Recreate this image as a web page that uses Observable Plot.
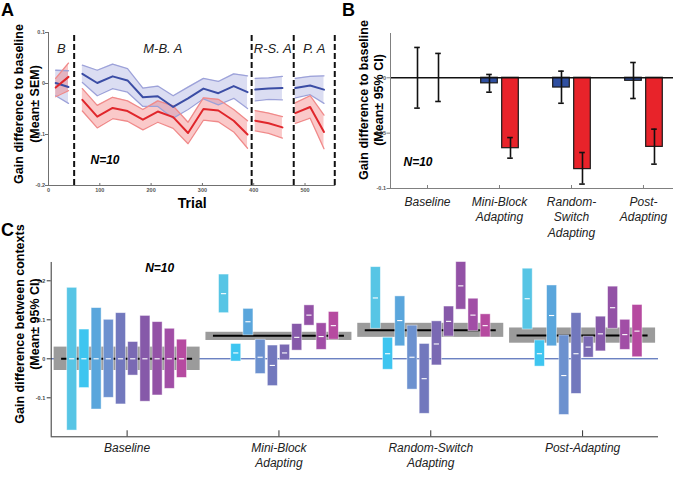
<!DOCTYPE html>
<html><head><meta charset="utf-8">
<script src="https://cdn.jsdelivr.net/npm/d3@7"></script>
<script src="https://cdn.jsdelivr.net/npm/@observablehq/plot@0.6"></script>
<style>
html,body{margin:0;padding:0;background:#fff;}
#wrap{position:relative;width:682px;height:480px;overflow:hidden;font-family:"Liberation Sans",Arial,Helvetica,sans-serif;}
#wrap > svg{position:absolute;}
.letter{position:absolute;font-weight:bold;font-size:18px;line-height:1;color:#000;}
</style></head><body><div id="wrap"></div>
<script>
const FONT = '"Liberation Sans", Arial, Helvetica, sans-serif';

// ---------------- Panel A data ----------------
const regionNamesA = ["B", "M-B. A", "R-S. A", "P. A"];
const regionEdgesA = [0, 50, 396, 478, 558];
const trialsA = [14, 39, 66, 95, 125, 154, 184, 213, 243, 272, 302, 331, 361, 388, 403, 429, 456, 481, 510, 537];
const blueMeanA = [0.001, -0.007, 0.019, 0.001, 0.014, 0.006, -0.027, -0.025, -0.046, -0.029, -0.010, -0.019, -0.005, -0.017, -0.012, -0.010, -0.009, -0.009, -0.004, -0.012];
const blueSemA = [0.025, 0.032, 0.017, 0.025, 0.024, 0.023, 0.018, 0.020, 0.022, 0.022, 0.020, 0.023, 0.024, 0.032, 0.022, 0.021, 0.023, 0.019, 0.018, 0.027];
const redMeanA = [-0.008, 0.013, -0.032, -0.065, -0.048, -0.054, -0.071, -0.055, -0.066, -0.097, -0.050, -0.053, -0.073, -0.100, -0.073, -0.078, -0.086, -0.058, -0.046, -0.095];
const redSemA = [0.018, 0.027, 0.022, 0.022, 0.021, 0.020, 0.020, 0.021, 0.022, 0.021, 0.022, 0.022, 0.022, 0.027, 0.020, 0.020, 0.021, 0.020, 0.022, 0.033];
const xTicksA = [0, 100, 200, 300, 400, 500];
const yTicksA = [0.1, 0, -0.1, -0.2];

// ---------------- Panel B data ----------------
const phasesB = ["Baseline", "Mini-Block\nAdapting", "Random-\nSwitch\nAdapting", "Post-\nAdapting"];
const blueB   = [0, -0.005, -0.0088, -0.0027];
const blueLoB = [-0.0274, -0.013, -0.023, -0.0187];
const blueHiB = [0.0274, 0.003, 0.006, 0.0138];
const redB    = [0, -0.0636, -0.0825, -0.0624];
const redLoB  = [-0.0214, -0.0726, -0.096, -0.078];
const redHiB  = [0.022, -0.054, -0.0675, -0.0464];
const yTicksB = [0, -0.05, -0.1];

// ---------------- Panel C data ----------------
const phasesC = ["Baseline", "Mini-Block\nAdapting", "Random-Switch\nAdapting", "Post-Adapting"];
const groupMeanC = [0, 0.059, 0.073, 0.060];
const groupLoC   = [-0.030, 0.047, 0.055, 0.040];
const groupHiC   = [0.030, 0.068, 0.091, 0.079];
const subjMeanBaseline = [0, 0, 0, 0, 0, 0, 0, 0, 0, 0];
const subjLoBaseline   = [-0.184, -0.075, -0.130, -0.100, -0.117, -0.043, -0.110, -0.094, -0.077, -0.049];
const subjHiBaseline   = [0.182, 0.075, 0.130, 0.100, 0.117, 0.043, 0.110, 0.094, 0.077, 0.049];
const subjMeanMini = [0.167, 0.015, 0.095, 0.004, -0.017, 0.015, 0.055, 0.112, 0.057, 0.085];
const subjLoMini   = [0.117, -0.007, 0.060, -0.039, -0.070, -0.004, 0.021, 0.085, 0.023, 0.049];
const subjHiMini   = [0.216, 0.038, 0.128, 0.049, 0.034, 0.036, 0.089, 0.137, 0.091, 0.120];
const subjMeanRandom = [0.156, 0.013, 0.098, 0.004, -0.051, 0.038, 0.096, 0.187, 0.112, 0.085];
const subjLoRandom   = [0.077, -0.028, 0.032, -0.079, -0.141, -0.017, 0.057, 0.126, 0.071, 0.055];
const subjHiRandom   = [0.235, 0.054, 0.160, 0.085, 0.038, 0.096, 0.134, 0.248, 0.154, 0.114];
const subjMeanPost = [0.154, 0.013, 0.111, -0.043, 0.013, 0.030, 0.064, 0.131, 0.062, 0.071];
const subjLoPost   = [0.075, -0.020, 0.032, -0.144, -0.090, 0.003, 0.019, 0.077, 0.023, 0.004];
const subjHiPost   = [0.231, 0.047, 0.188, 0.060, 0.117, 0.057, 0.108, 0.185, 0.100, 0.138];
const subjectColors = ["#57c5e5", "#3ec5f0", "#5aa6dc", "#6c91cf", "#7278bd", "#7a69b3", "#8659a9", "#9352a6", "#a14ea6", "#b64aa0"];
const yTicksC = [0.2, 0.1, 0, -0.1];

// ---------------- helpers ----------------
const wrap = document.getElementById("wrap");
const fmt = d => String(d);
function place(svg, left, top) { svg.style.left = left + "px"; svg.style.top = top + "px"; wrap.appendChild(svg); }
function letter(t, left, top) { const d = document.createElement("div"); d.className = "letter"; d.textContent = t; d.style.left = left + "px"; d.style.top = top + "px"; wrap.appendChild(d); }
const baseStyle = {fontFamily: FONT, background: "transparent", overflow: "visible", fontSize: "6px", color: "#000"};

// ---------------- Panel A ----------------
{
  const W = 345, H = 220, mL = 48, mR = 9.7, mT = 32, mB = 35;
  const xD = [0, 560], yD = [-0.2, 0.1];
  const kx = (xD[1] - xD[0]) / (W - mL - mR), ky = (yD[1] - yD[0]) / (H - mT - mB);
  const regionOf = t => d3.bisectRight(regionEdgesA, t) - 1;
  const rows = trialsA.map((t, i) => ({t, region: regionOf(t), bm: blueMeanA[i], bs: blueSemA[i], rm: redMeanA[i], rs: redSemA[i]}));
  const regions = regionNamesA.map((name, i) => ({name, mid: (regionEdgesA[i] + regionEdgesA[i + 1]) / 2}));
  const axisC = "#707070";
  const svg = Plot.plot({
    width: W, height: H, marginLeft: mL, marginRight: mR, marginTop: mT, marginBottom: mB,
    x: {domain: xD, axis: null}, y: {domain: yD, axis: null},
    style: baseStyle,
    marks: [
      Plot.areaY(rows, {x: "t", y1: d => d.bm - d.bs, y2: d => d.bm + d.bs, z: "region", fill: "#8f96d8", fillOpacity: 0.32}),
      Plot.areaY(rows, {x: "t", y1: d => d.rm - d.rs, y2: d => d.rm + d.rs, z: "region", fill: "#f26a6a", fillOpacity: 0.36}),
      Plot.line(rows, {x: "t", y: d => d.bm + d.bs, z: "region", stroke: "#9da2d9", strokeWidth: 1.3}),
      Plot.line(rows, {x: "t", y: d => d.bm - d.bs, z: "region", stroke: "#9da2d9", strokeWidth: 1.3}),
      Plot.line(rows, {x: "t", y: d => d.rm + d.rs, z: "region", stroke: "#f08a8a", strokeWidth: 1.3}),
      Plot.line(rows, {x: "t", y: d => d.rm - d.rs, z: "region", stroke: "#f08a8a", strokeWidth: 1.3}),
      Plot.line(rows, {x: "t", y: "bm", z: "region", stroke: "#3b4da5", strokeWidth: 2}),
      Plot.line(rows, {x: "t", y: "rm", z: "region", stroke: "#e0262b", strokeWidth: 2}),
      Plot.ruleX(regionEdgesA.slice(1), {x: d => d, y1: () => yD[0], y2: () => yD[1], stroke: "#111", strokeWidth: 2, strokeDasharray: "6,3"}),
      // axes
      Plot.ruleX([xD[0]], {x: d => d, y1: () => yD[0], y2: () => yD[1], stroke: axisC, strokeWidth: 1}),
      Plot.ruleY([yD[0]], {y: d => d, x1: () => xD[0], x2: () => xD[1], stroke: axisC, strokeWidth: 1}),
      Plot.ruleY(yTicksA, {y: d => d, x1: () => xD[0] - 3 * kx, x2: () => xD[0], stroke: axisC}),
      Plot.ruleX(xTicksA, {x: d => d, y1: () => yD[0], y2: () => yD[0] + 2 * ky, stroke: axisC}),
      Plot.text(yTicksA, {x: () => xD[0], y: d => d, text: fmt, textAnchor: "end", dx: -3.5, fontSize: 5.5, fontWeight: "bold", fill: "#555"}),
      Plot.text(xTicksA, {x: d => d, y: () => yD[0], text: fmt, dy: 4.5, fontSize: 5.5, fontWeight: "bold", fill: "#555"}),
      // annotations
      Plot.text(regions, {x: "mid", text: "name", frameAnchor: "top", dy: 11, fontSize: 13, fontStyle: "italic", fill: "#222"}),
      Plot.text(["N=10"], {text: d => d, frameAnchor: "bottom-left", dx: 42, dy: -22, textAnchor: "start", fontSize: 12, fontWeight: "bold", fontStyle: "italic"}),
      Plot.text(["Trial"], {text: d => d, frameAnchor: "bottom", dy: 22, fontSize: 14, fontWeight: "bold"}),
      Plot.text(["Gain difference to baseline\n(Mean\u00b1 SEM)"], {text: d => d, frameAnchor: "left", textAnchor: "middle", lineAnchor: "middle", rotate: -90, dx: -23, dy: -5, fontSize: 12.5, fontWeight: "bold", lineHeight: 1.28})
    ]
  });
  place(svg, 0, 0);
}

// ---------------- Panel B ----------------
{
  const W = 342, H = 230, mL = 50, mR = 9, mT = 33, mB = 42;
  const xD = [-0.514, 3.417], yD = [-0.1, 0.04];
  const kx = (xD[1] - xD[0]) / (W - mL - mR), ky = (yD[1] - yD[0]) / (H - mT - mB);
  const off = {blue: -10 * kx, red: 11 * kx}, half = 8.3 * kx, cap = 2.8 * kx;
  const rows = phasesB.flatMap((p, i) => [
    {i, s: "blue", v: blueB[i], lo: blueLoB[i], hi: blueHiB[i]},
    {i, s: "red", v: redB[i], lo: redLoB[i], hi: redHiB[i]}
  ]);
  const cx = d => d.i + off[d.s];
  const groups = phasesB.map((p, i) => ({p, i}));
  const axisC = "#808080";
  const svg = Plot.plot({
    width: W, height: H, marginLeft: mL, marginRight: mR, marginTop: mT, marginBottom: mB,
    x: {domain: xD, axis: null}, y: {domain: yD, axis: null},
    style: baseStyle,
    marks: [
      Plot.rect(rows.filter(d => d.v !== 0), {x1: d => cx(d) - half, x2: d => cx(d) + half, y1: () => 0, y2: "v",
        fill: d => d.s === "blue" ? "#2f4fa0" : "#e8232a", stroke: "#1a1a1a", strokeWidth: 1.2}),
      Plot.ruleY([0], {y: d => d, x1: () => xD[0], x2: () => xD[1], stroke: "#111", strokeWidth: 1.5}),
      Plot.ruleX(rows, {x: cx, y1: "lo", y2: "hi", stroke: "#111", strokeWidth: 1.6}),
      Plot.ruleY(rows, {y: "lo", x1: d => cx(d) - cap, x2: d => cx(d) + cap, stroke: "#111", strokeWidth: 1.6}),
      Plot.ruleY(rows, {y: "hi", x1: d => cx(d) - cap, x2: d => cx(d) + cap, stroke: "#111", strokeWidth: 1.6}),
      // axes
      Plot.ruleX([xD[0]], {x: d => d, y1: () => yD[0], y2: () => yD[1], stroke: axisC}),
      Plot.ruleY([yD[0]], {y: d => d, x1: () => xD[0], x2: () => xD[1], stroke: axisC}),
      Plot.ruleY(yTicksB, {y: d => d, x1: () => xD[0] - 3.5 * kx, x2: () => xD[0], stroke: axisC}),
      Plot.ruleX(groups, {x: "i", y1: () => yD[0], y2: () => yD[0] + 3 * ky, stroke: axisC}),
      Plot.text(yTicksB, {x: () => xD[0], y: d => d, text: fmt, textAnchor: "end", dx: -4.5, fontSize: 5.5, fontWeight: "bold", fill: "#555"}),
      Plot.text(groups, {x: "i", y: () => yD[0], text: "p", lineAnchor: "top", dy: 6, fontSize: 12, fontStyle: "italic", lineHeight: 1.3, fill: "#222"}),
      Plot.text(["N=10"], {text: d => d, frameAnchor: "bottom-left", dx: 13, dy: -23, textAnchor: "start", fontSize: 12, fontWeight: "bold", fontStyle: "italic"}),
      Plot.text(["Gain difference to baseline\n(Mean\u00b1 95% CI)"], {text: d => d, frameAnchor: "left", textAnchor: "middle", lineAnchor: "middle", rotate: -90, dx: -20, dy: -11, fontSize: 12.5, fontWeight: "bold", lineHeight: 1.2})
    ]
  });
  place(svg, 340, 0);
}

// ---------------- Panel C ----------------
{
  const W = 682, H = 250, mL = 50.7, mR = 24, mT = 30.8, mB = 43.7;
  const xD = [-0.5, 3.5], yD = [-0.2, 0.25];
  const kx = (xD[1] - xD[0]) / (W - mL - mR), ky = (yD[1] - yD[0]) / (H - mT - mB);
  const lo = [subjLoBaseline, subjLoMini, subjLoRandom, subjLoPost];
  const hi = [subjHiBaseline, subjHiMini, subjHiRandom, subjHiPost];
  const mn = [subjMeanBaseline, subjMeanMini, subjMeanRandom, subjMeanPost];
  const rows = phasesC.flatMap((p, g) => lo[g].map((l, j) => ({g, j, lo: l, hi: hi[g][j], m: mn[g][j]})));
  const groups = phasesC.map((p, g) => ({p, g, m: groupMeanC[g], lo: groupLoC[g], hi: groupHiC[g]}));
  const step = 12.2 * kx, bw = 5 * kx, tw = 2.6 * kx;
  const sx = d => d.g + (d.j - 4.5) * step;
  const axisC = "#333";
  const svg = Plot.plot({
    width: W, height: H, marginLeft: mL, marginRight: mR, marginTop: mT, marginBottom: mB,
    x: {domain: xD, axis: null}, y: {domain: yD, axis: null}, color: {type: "identity"},
    style: baseStyle,
    marks: [
      Plot.ruleY([0], {y: d => d, x1: () => xD[0], x2: () => xD[1], stroke: "#2e4ea8", strokeWidth: 1}),
      Plot.rect(groups, {x1: d => d.g - 73 * kx, x2: d => d.g + 73 * kx, y1: "lo", y2: "hi", fill: "#9b9b9b"}),
      Plot.ruleY(groups, {y: "m", x1: d => d.g - 65.5 * kx, x2: d => d.g + 65.5 * kx, stroke: "#000", strokeWidth: 2}),
      Plot.rect(rows, {x1: d => sx(d) - bw, x2: d => sx(d) + bw, y1: "lo", y2: "hi", fill: d => subjectColors[d.j], stroke: "#ffffff", strokeOpacity: 0.55, strokeWidth: 0.8}),
      Plot.ruleY(rows, {y: "m", x1: d => sx(d) - tw, x2: d => sx(d) + tw, stroke: "#ffffff", strokeWidth: 1.1}),
      // axes
      Plot.ruleX([xD[0]], {x: d => d, y1: () => yD[0], y2: () => 0.247, stroke: axisC}),
      Plot.ruleY([yD[0]], {y: d => d, x1: () => xD[0], x2: () => xD[1], stroke: axisC}),
      Plot.ruleY(yTicksC, {y: d => d, x1: () => xD[0] - 4 * kx, x2: () => xD[0], stroke: axisC}),
      Plot.ruleX(groups, {x: "g", y1: () => yD[0], y2: () => yD[0] + 6 * ky, stroke: axisC}),
      Plot.text(yTicksC, {x: () => xD[0], y: d => d, text: fmt, textAnchor: "end", dx: -6, fontSize: 5.5, fontWeight: "bold", fill: "#444"}),
      Plot.text(groups, {x: "g", y: () => yD[0], text: "p", lineAnchor: "top", dy: 5, fontSize: 12, fontStyle: "italic", lineHeight: 1.25, fill: "#222"}),
      Plot.text(["N=10"], {text: d => d, frameAnchor: "top-left", dx: 94, dy: 2, textAnchor: "start", fontSize: 12, fontWeight: "bold", fontStyle: "italic"}),
      Plot.text(["Gain difference between contexts\n(Mean\u00b1 95% CI)"], {text: d => d, frameAnchor: "left", textAnchor: "middle", lineAnchor: "middle", rotate: -90, dx: -24.7, dy: -25, fontSize: 12.5, fontWeight: "bold", lineHeight: 1.2})
    ]
  });
  place(svg, 0, 230);
}

letter("A", 1, 1);
letter("B", 342, 1);
letter("C", 1, 221);
</script></body></html>
